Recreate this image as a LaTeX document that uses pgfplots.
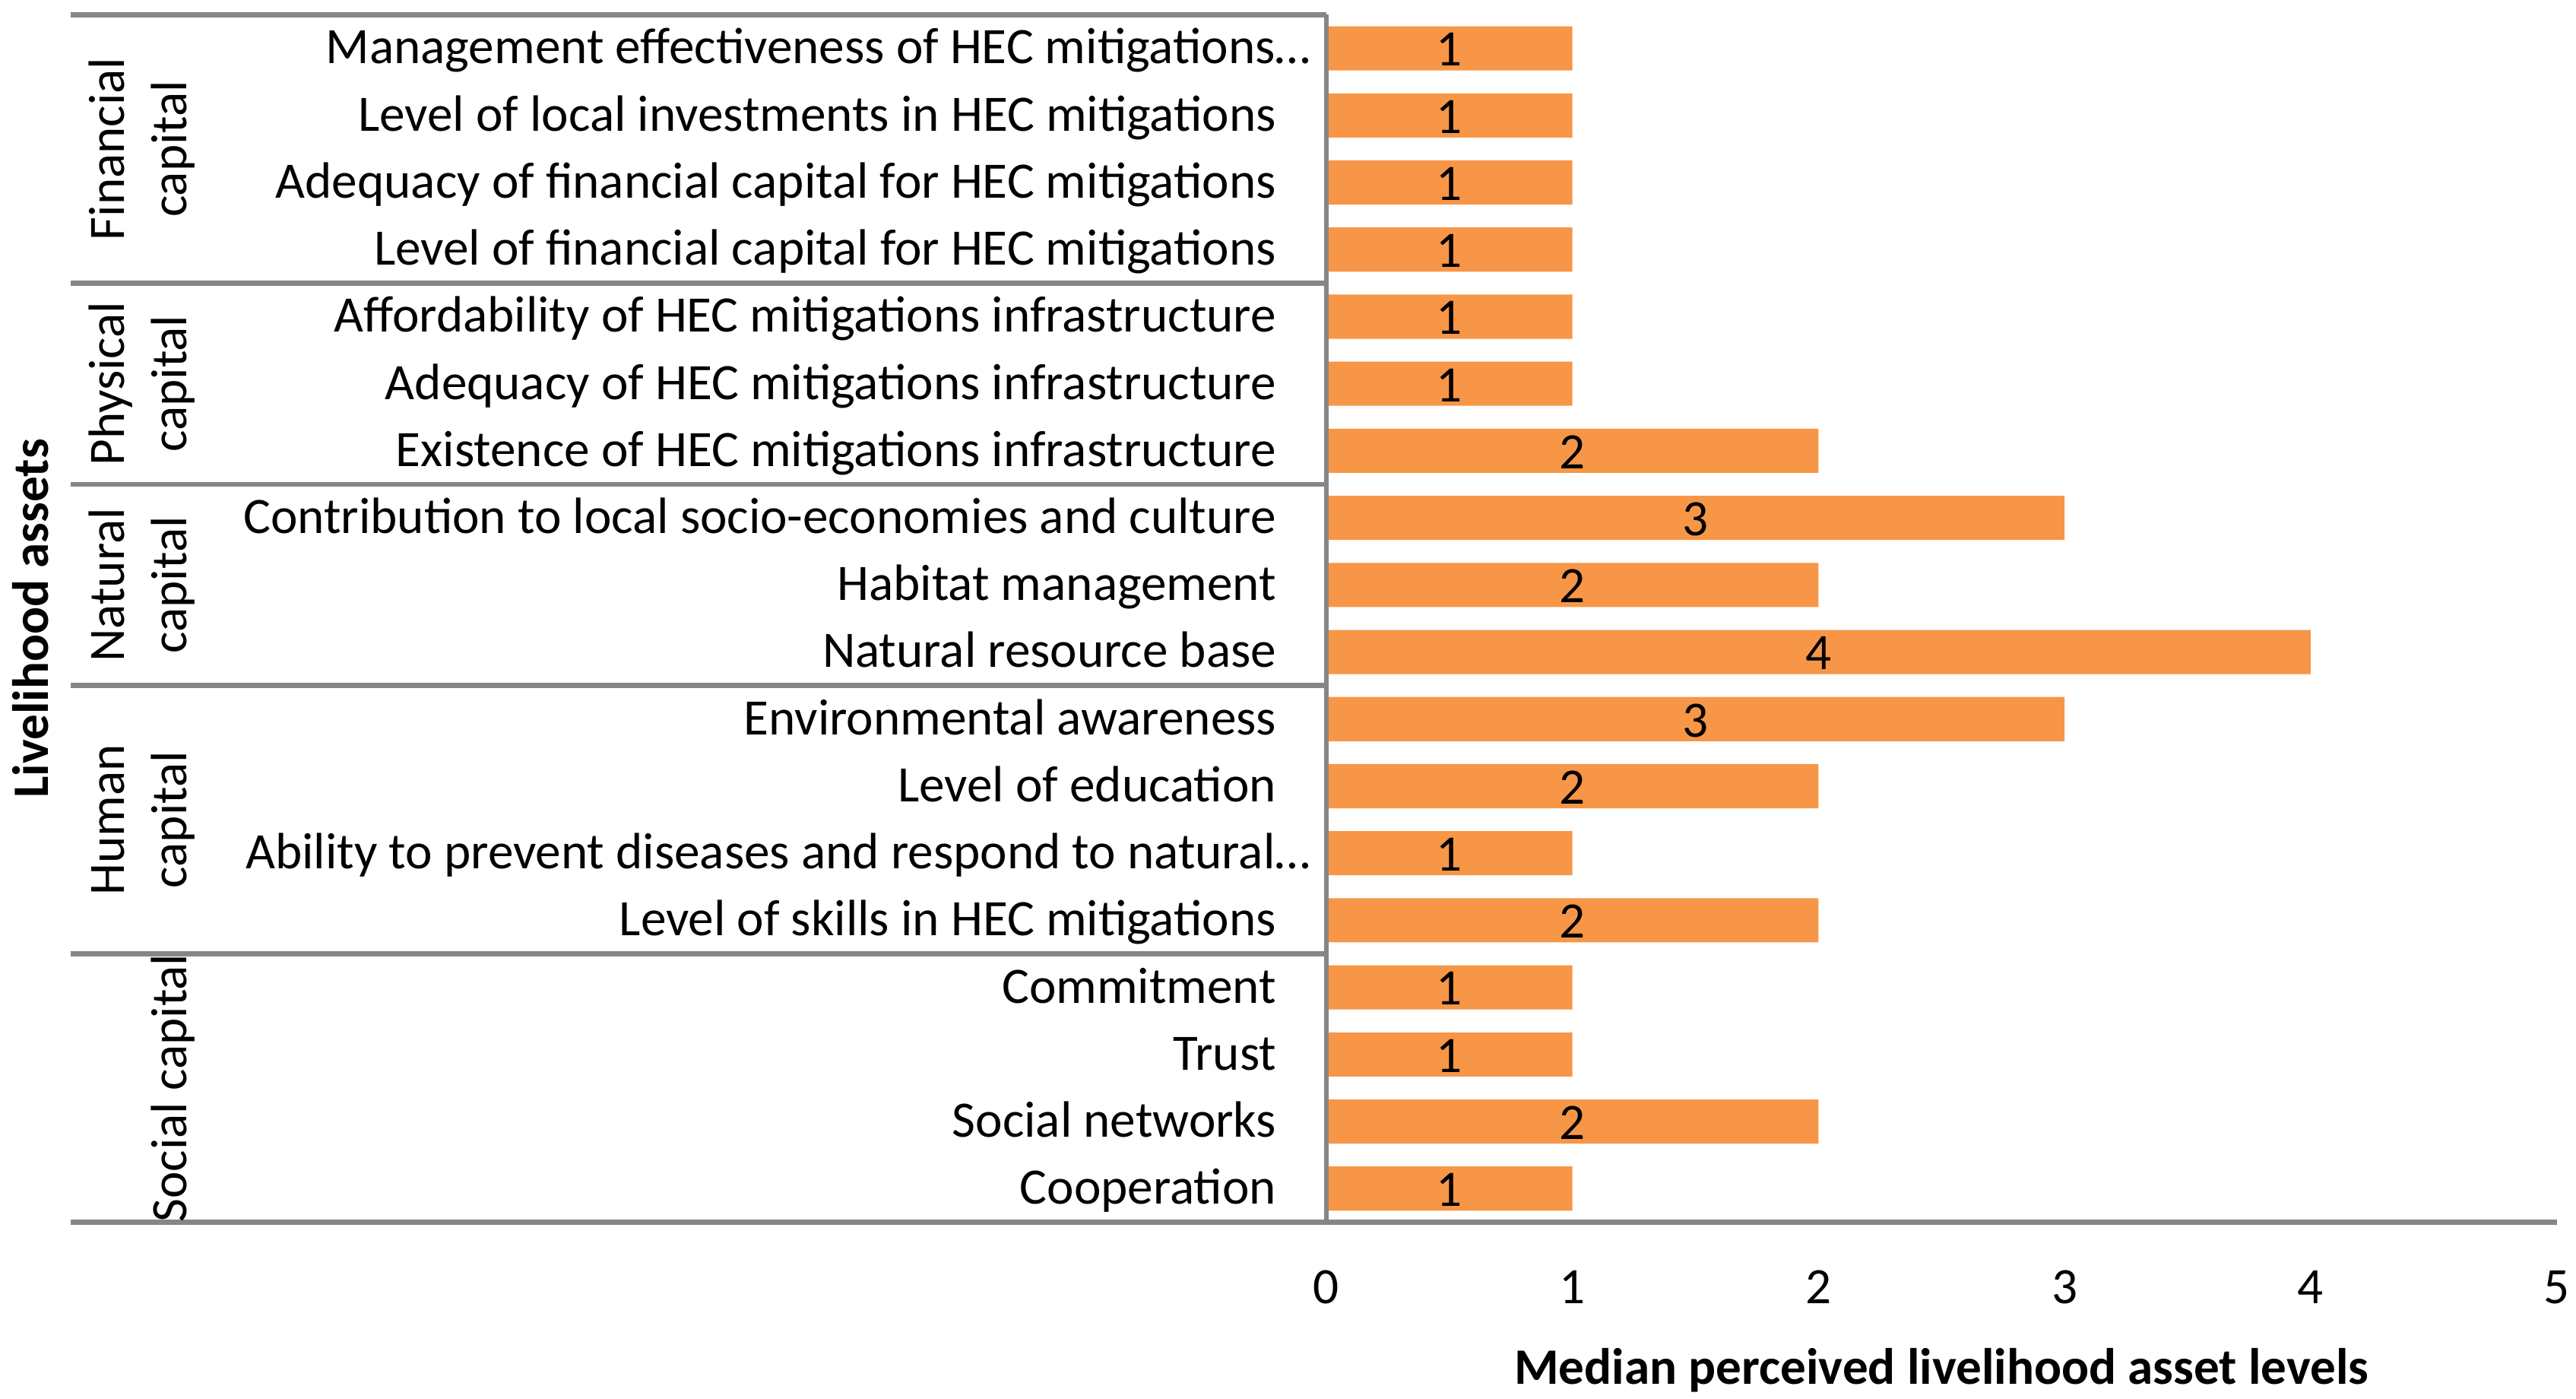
\documentclass[border=0pt]{standalone}
\usepackage{fontspec}
\setmainfont{Carlito}
\usepackage{pgfplots}
\usepackage{pgfplotstable}
\pgfplotsset{compat=1.18}

\definecolor{barorange}{RGB}{247,150,70}
\definecolor{axgray}{RGB}{134,134,134}

% idx = row from top, val = median level
\pgfplotstableread{
idx val
0 1
1 1
2 1
3 1
4 1
5 1
6 2
7 3
8 2
9 4
10 3
11 2
12 1
13 2
14 1
15 1
16 2
17 1
}\assets

\begin{document}
\fontsize{15.5}{18.5}\selectfont
\begin{tikzpicture}
\begin{axis}[
    at={(402.65pt,53.65pt)}, anchor=south west,
    scale only axis, width=373.5pt, height=366.4pt,
    xmin=0, xmax=5, ymin=-0.5, ymax=17.5,
    y dir=reverse,
    axis line style={draw=none},
    tick style={draw=none},
    major tick length=0pt,
    xtick={0,1,2,3,4,5},
    ytick={0,...,17},
    yticklabels={
        {Management effectiveness of HEC mitigations…\hspace*{-10.4pt}},
        {Level of local investments in HEC mitigations},
        {Adequacy of financial capital for HEC mitigations},
        {Level of financial capital for HEC mitigations},
        {Affordability of HEC mitigations infrastructure},
        {Adequacy of HEC mitigations infrastructure},
        {Existence of HEC mitigations infrastructure},
        {Contribution to local socio-economies and culture},
        {Habitat management},
        {Natural resource base},
        {Environmental awareness},
        {Level of education},
        {Ability to prevent diseases and respond to natural…\hspace*{-10.4pt}},
        {Level of skills in HEC mitigations},
        {Commitment},
        {Trust},
        {Social networks},
        {Cooperation}},
    yticklabel style={inner sep=0pt, anchor=east, xshift=-15pt,
        text height=12.4pt, text depth=3pt},
    xticklabel style={inner sep=0pt, anchor=center, yshift=-19.75pt},
    /pgf/number format/assume math mode=true,
    clip=false,
]
\addplot[xbar, fill=barorange, draw=none, bar width=13.4pt]
    table[x=val, y=idx] {\assets};
\addplot[draw=none, mark=none, nodes near coords, point meta=explicit symbolic,
    every node near coord/.style={anchor=center, inner sep=0pt, yshift=-0.4pt}]
    table[x expr=\thisrow{val}/2, y=idx, meta=val] {\assets};

% axis and group lines
\draw[axgray, line width=1.5pt] (axis cs:0,-0.5) -- (axis cs:0,17.5);
\draw[axgray, line width=1.5pt] (axis cs:5,17.5) -- ([xshift=-381.2pt]axis cs:0,17.5);
\draw[axgray, line width=1.5pt] (axis cs:0,-0.5) -- ([xshift=-381.2pt]axis cs:0,-0.5);
\draw[axgray, line width=1.5pt] (axis cs:0,3.5) -- ([xshift=-381.2pt]axis cs:0,3.5);
\draw[axgray, line width=1.5pt] (axis cs:0,6.5) -- ([xshift=-381.2pt]axis cs:0,6.5);
\draw[axgray, line width=1.5pt] (axis cs:0,9.5) -- ([xshift=-381.2pt]axis cs:0,9.5);
\draw[axgray, line width=1.5pt] (axis cs:0,13.5) -- ([xshift=-381.2pt]axis cs:0,13.5);

% group labels
\node[xshift=-365pt, rotate=90, anchor=base] at (axis cs:0,1.5) {Financial};
\node[xshift=-345.9pt, rotate=90, anchor=base] at (axis cs:0,1.5) {capital};
\node[xshift=-365pt, rotate=90, anchor=base] at (axis cs:0,5) {Physical};
\node[xshift=-345.9pt, rotate=90, anchor=base] at (axis cs:0,5) {capital};
\node[xshift=-365pt, rotate=90, anchor=base] at (axis cs:0,8) {Natural};
\node[xshift=-345.9pt, rotate=90, anchor=base] at (axis cs:0,8) {capital};
\node[xshift=-365pt, rotate=90, anchor=base] at (axis cs:0,11.5) {Human};
\node[xshift=-345.9pt, rotate=90, anchor=base] at (axis cs:0,11.5) {capital};
\node[xshift=-345.9pt, rotate=90, anchor=base] at (axis cs:0,15.5) {Social capital};

\node[xshift=-388pt, rotate=90, anchor=base, font=\bfseries] at (axis cs:0,8.5) {Livelihood assets};
\node[anchor=base, yshift=-49.1pt, font=\bfseries] at (axis cs:2.5,17.5) {Median perceived livelihood asset levels};
\end{axis}
\pgfresetboundingbox
\path (0,0) rectangle (782pt,424.55pt);
\end{tikzpicture}
\end{document}
